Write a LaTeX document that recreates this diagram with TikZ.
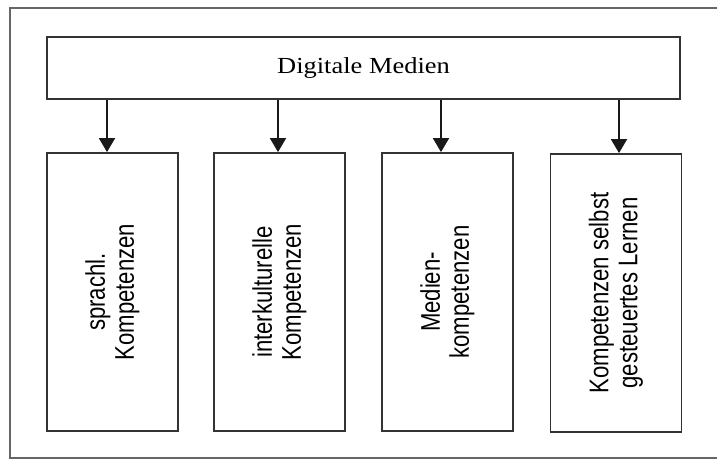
\documentclass[tikz,border=0pt]{standalone}
\usepackage{fontspec}
\usetikzlibrary{arrows.meta}
\newfontfamily\boxfont{Liberation Sans}[FakeStretch=0.82]
\newfontfamily\topfont{Liberation Serif}[FakeStretch=1.15]

\begin{document}
\begin{tikzpicture}
  [x=1pt,y=-1pt,line width=1.8pt,
   every node/.style={rectangle,draw=black!80,inner sep=0pt},
   kbox/.style={minimum width=278pt,minimum height=131pt,rotate=90,align=center,
     font=\boxfont\fontsize{27}{29}\selectfont},
   arr/.style={draw=black!90,-{Triangle[width=16pt,length=14pt]}}]
  \useasboundingbox (0,0) rectangle (717,462);
  \draw[black!60,line width=1.5pt] (10,8) rectangle (740,458);

  \node[minimum width=633pt,minimum height=62pt,font=\topfont\fontsize{23}{26}\selectfont]
    (medien) at (363.5,68) {Digitale Medien};

  \node[kbox] (sprache) at (112.5,292) {sprachl.\\Kompetenzen};
  \node[kbox] (kultur) at (279.5,292) {interkulturelle\\Kompetenzen};
  \node[kbox] (mkomp) at (447.5,292) {Medien-\\kompetenzen};
  \node[kbox] (lernen) at (616,293) {Kompetenzen selbst\\gesteuertes Lernen};

  \foreach \k/\dx in {sprache/-5.5,kultur/-1.5,mkomp/-6.5,lernen/3}
    \draw[arr] ([xshift=\dx pt]\k.center |- medien.south) -- ([xshift=\dx pt]\k.center |- \k.east);

\end{tikzpicture}
\end{document}
